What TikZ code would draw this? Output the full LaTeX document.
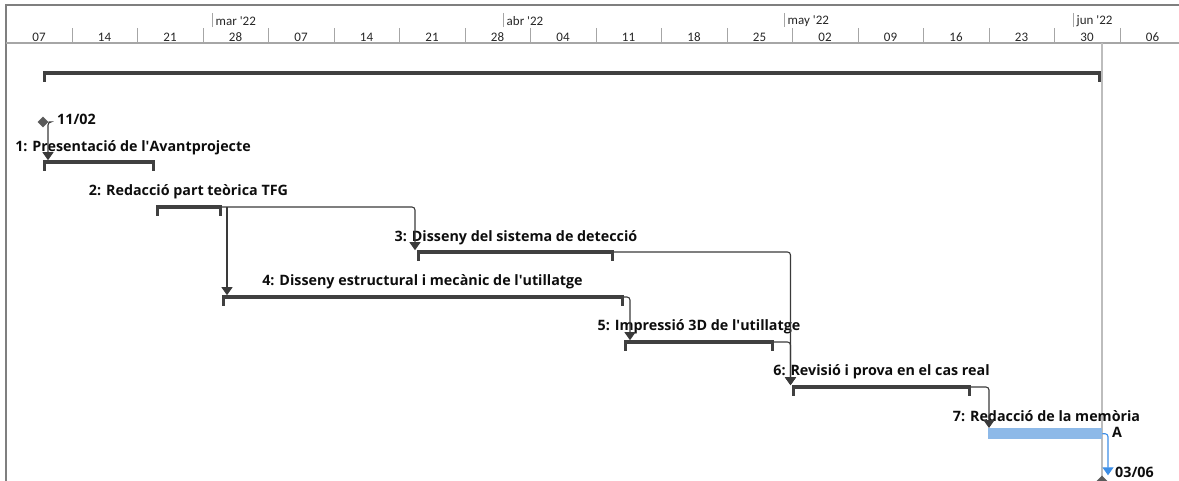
\documentclass[tikz,border=0pt]{standalone}
\usepackage{fontspec}
\setmainfont{Open Sans}
\newfontfamily\hdrfont{Carlito}
\usetikzlibrary{arrows.meta,shapes.geometric}

\definecolor{barc}{HTML}{404040}
\definecolor{linec}{HTML}{3A3A3A}
\definecolor{framec}{HTML}{7F7F7F}
\definecolor{gridc}{HTML}{A6A6A6}
\definecolor{todayc}{HTML}{BDBDBD}
\definecolor{bluebar}{HTML}{8DB9E8}
\definecolor{bluelink}{HTML}{3D8EE6}
\definecolor{msc}{HTML}{5A5A5A}

% a thin task bar with end ticks; #1 name, #2 start x, #3 end x, #4 y
\newcommand{\ganttbar}[4]{%
  \coordinate (#1-s) at (#2,#4);
  \coordinate (#1-e) at (#3,#4);
  \draw[bar] (#1-s) -- (#1-e);
  \draw[endtick] ([xshift=1.5pt]#1-s) -- ++(0,9);
  \draw[endtick] ([xshift=-1.5pt]#1-e) -- ++(0,9);
}
\newcommand{\ap}{\textquotesingle}

\begin{document}
\begin{tikzpicture}[x=1pt,y=-1pt,
  bar/.style={draw=barc,line width=3.2pt},
  endtick/.style={draw=barc,line width=3pt,shorten <=-1.5pt},
  link/.style={draw=linec,line width=1.1pt,rounded corners=3pt,
    -{Triangle[width=11pt,length=8pt]}},
  bluelinkstyle/.style={link,draw=bluelink,-{Triangle[width=11pt,length=8pt,fill=bluelink]}},
  lbl/.style={font=\bfseries\fontsize{14.3}{17}\selectfont,text=black!95,inner sep=0pt},
  hdr/.style={font=\hdrfont\fontsize{13}{15}\selectfont,text=black!85,inner sep=0pt},
  ms/.style={diamond,fill=msc,minimum width=11pt,minimum height=11pt,inner sep=0pt}]

\useasboundingbox (0,0) rectangle (1179,481);

% timescale frame
\draw[framec,line width=2pt] (6,481) -- (6,5) -- (1179,5);
\draw[gridc,line width=1.5pt] (6,43) -- (1179,43);

% week row
\foreach \k in {0,...,16}
  \draw[gridc,line width=1pt] ({72+65.5*\k},28) -- ({72+65.5*\k},43);
\foreach \d [count=\i from 0] in {07,14,21,28,07,14,21,28,04,11,18,25,02,09,16,23,30,06}
  \node[hdr] (w\i) at ({39+65.5*\i},37) {\d};

% month row
\foreach \x/\m [count=\j] in {212/mar, 503/abr, 784/may, 1073/jun}{
  \draw[gridc,line width=1pt] (\x,13) -- (\x,27);
  \node[hdr,anchor=west] (mo\j) at (\x+3.5,21) {\m\ '22};
}

% status date line
\draw[todayc,line width=1.8pt] (1102,43) -- (1102,481);

% project summary bar
\coordinate (sum-s) at (43,73);
\coordinate (sum-e) at (1100.5,73);
\draw[bar] (sum-s) -- (sum-e);
\draw[endtick] ([xshift=1.5pt]sum-s) -- ++(0,9);
\draw[endtick] ([xshift=-1.5pt]sum-e) -- ++(0,9);

% tasks
\ganttbar{t1}{43}{155}{162}
\ganttbar{t2}{156}{222}{207}
\ganttbar{t3}{417}{614}{252}
\ganttbar{t4}{222}{624}{297}
\ganttbar{t5}{624}{774}{342}
\ganttbar{t6}{792}{971}{387}
\node[fill=bluebar,minimum width=114pt,minimum height=11pt,inner sep=0pt,
  anchor=north west] (t7) at (988,428) {};

% milestones
\node[ms] (m1) at (43,122) {};
\node[ms] (m2) at (1102,481) {};

% labels
\node[lbl,anchor=west] (lm1) at (57,119) {11/02};
\node[lbl] (l1) at (133,148) {1: Presentació de l\ap Avantprojecte};
\node[lbl] (l2) at (188.5,192) {2: Redacció part teòrica TFG};
\node[lbl] (l3) at (516,238) {3: Disseny del sistema de detecció};
\node[lbl] (l4) at (422.5,282) {4: Disseny estructural i mecànic de l\ap utillatge};
\node[lbl] (l5) at (699,327) {5: Impressió 3D de l\ap utillatge};
\node[lbl] (l6) at (881.5,372) {6: Revisió i prova en el cas real};
\node[lbl] (l7) at (1046.5,416) {7: Redacció de la memòria};
\node[lbl] (lA) at (1117,432) {A};
\node[lbl,anchor=west] (lm2) at (1115,472.5) {03/06};

% dependency links
\draw[link] (m1.east) -| ([shift={(5,-1.8)}]t1-s);
\draw[link] (t2-e) -| ([shift={(-2,-1.8)}]t3-s);
\draw[link] ([xshift=5pt]t2-e) -- ([shift={(5,-1.8)}]t4-s);
\draw[link] (t3-e) -| ([shift={(-1.5,-1.8)}]t6-s);
\draw[link] (t4-e) -| ([shift={(6,-1.8)}]t5-s);
\draw[link] (t5-e) -| ([shift={(-1.5,-1.8)}]t6-s);
\draw[link] (t6-e) -| ([xshift=1pt]t7.north west);
\draw[bluelinkstyle] (t7.east) -| ([xshift=6pt]m2.north);
\end{tikzpicture}
\end{document}
